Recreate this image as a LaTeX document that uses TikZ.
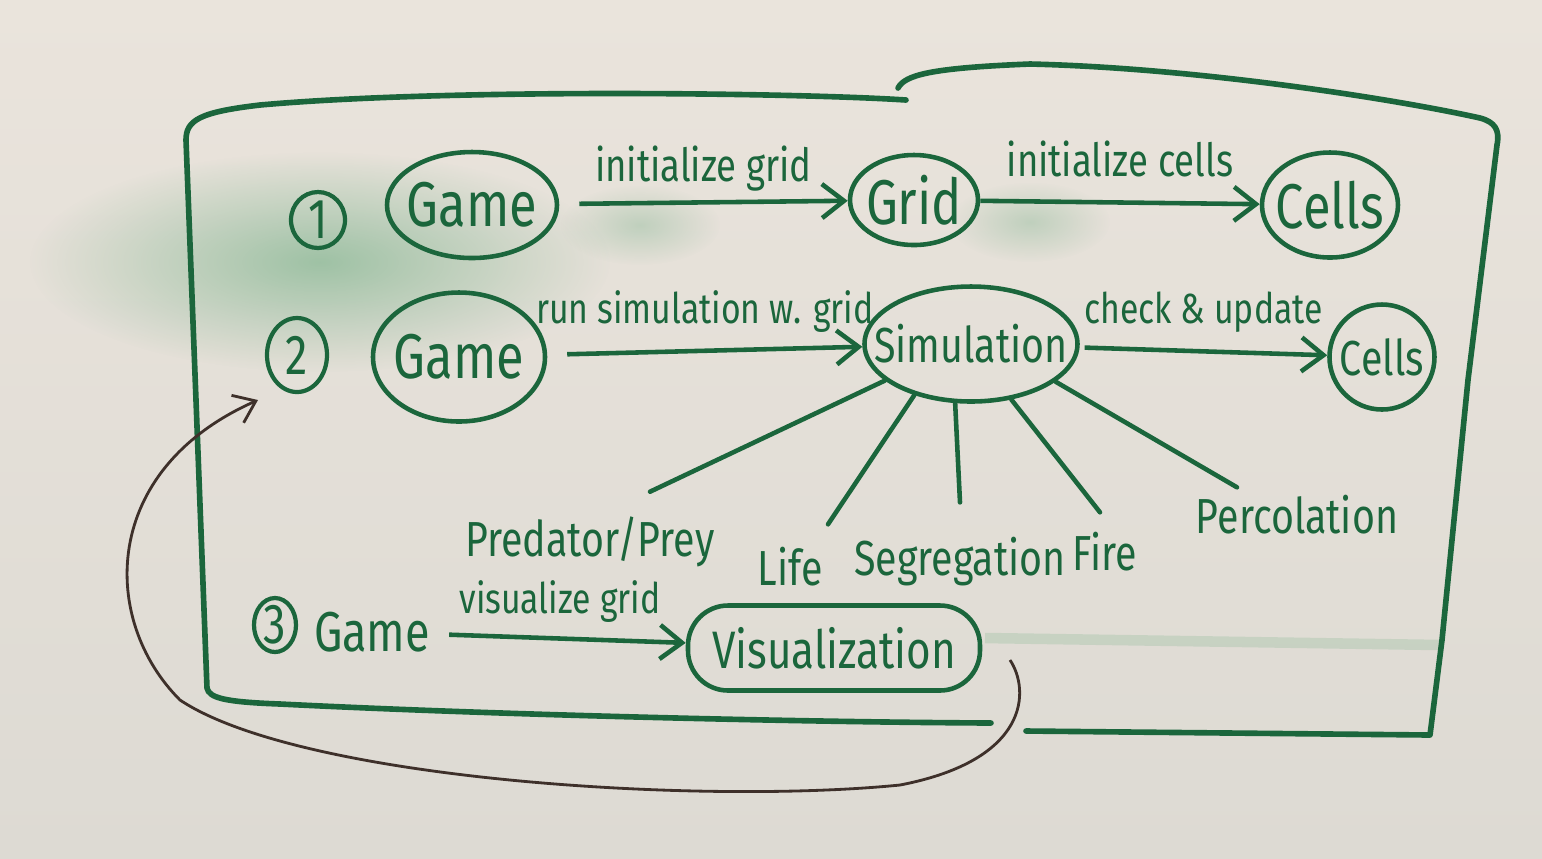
\documentclass[tikz,border=0pt]{standalone}
\usepackage{fontspec}
\setmainfont{Fira Sans}[FakeStretch=0.8]
\usetikzlibrary{arrows.meta,shapes,fadings}
\tikzset {>={Straight Barb[length=2.2mm,width=3.4mm]}}
\tikzfading[name=smudge,inner color=transparent!0,outer color=transparent!100]
\definecolor{board}{RGB}{234,228,220}
\definecolor{boardlow}{RGB}{221,218,211}
\definecolor{ink}{RGB}{27,102,60}
\definecolor{mint}{RGB}{100,168,122}
\definecolor{pen}{RGB}{62,48,42}

\begin{document}
\begin{tikzpicture}[x=0.1mm,y=-0.1mm,
  bubble/.style={ellipse,draw=ink,line width=1.3pt,inner sep=-8mm,text=ink,font=\fontsize{18}{20}\selectfont},
  num/.style={ellipse,draw=ink,line width=1.2pt,inner sep=-4mm,text=ink,font=\fontsize{16}{18}\selectfont},
  lbl/.style={text=ink,inner sep=1pt,font=\fontsize{13}{15}\selectfont},
  leaf/.style={text=ink,inner sep=1pt,font=\fontsize{14}{16}\selectfont},
  link/.style={->,draw=ink,line width=1.3pt},
  spoke/.style={draw=ink,line width=1.3pt,line cap=round},
  frame/.style={draw=ink,line width=1.6pt,line cap=round,line join=round}]
\useasboundingbox (0,0) rectangle (1542,858);
\shade[top color=board,bottom color=boardlow] (0,0) rectangle (1542,858);

% smudges on the board
\fill[mint,opacity=.55,path fading=smudge] (320,262) ellipse [x radius=29mm,y radius=11mm];
\fill[mint,opacity=.3,path fading=smudge] (640,225) ellipse [x radius=8mm,y radius=4mm];
\fill[mint,opacity=.3,path fading=smudge] (1030,222) ellipse [x radius=8mm,y radius=4mm];
\draw[mint,opacity=.2,line width=3pt] (985,638) -- (1440,645);

% frame
\draw[frame] (906,100) .. controls (800,93) and (450,88) .. (260,105) .. controls (200,112) and (186,120) .. (186,140) -- (196,400) -- (207,688) .. controls (209,698) and (225,702) .. (280,704) .. controls (500,715) and (800,722) .. (991,723);
\draw[frame] (898,88) .. controls (905,75) and (930,68) .. (1030,64) .. controls (1200,68) and (1400,100) .. (1480,118) .. controls (1495,122) and (1500,130) .. (1497,145) -- (1468,380) -- (1442,640) -- (1430,735) -- (1026,731);

% 1
\node[num,minimum width=5.4mm,minimum height=5.6mm] (one) at (318,220) {1};
\node[bubble,minimum width=17mm,minimum height=10.6mm] (gameA) at (472,205) {Game};
\node[bubble,minimum width=12.8mm,minimum height=9mm] (grid) at (914,200) {Grid};
\node[bubble,minimum width=13.6mm,minimum height=10.5mm] (cellsA) at (1330,205) {Cells};
\draw[link,shorten <=2mm] (gameA) -- node[lbl,above=.5mm] {initialize grid} (grid);
\draw[link] (grid) -- node[lbl,above=2mm] {initialize cells} (cellsA);

% 2
\node[num,minimum width=6mm,minimum height=7.4mm] (two) at (297,355) {2};
\node[bubble,minimum width=17.2mm,minimum height=12.9mm] (gameB) at (459,357) {Game};
\node[bubble,minimum width=21.3mm,minimum height=11.5mm,font=\fontsize{14}{16}\selectfont] (sim) at (971,344) {Simulation};
\node[bubble,minimum width=10.5mm,minimum height=10.5mm,font=\fontsize{14}{16}\selectfont] (cellsB) at (1382,357) {Cells};
\draw[link,shorten <=2mm] (gameB) -- node[lbl,above=1.2mm,font=\fontsize{12}{14}\selectfont] {run simulation w. grid} (sim);
\draw[link,shorten <=.5mm] (sim) -- node[lbl,above=1.3mm,font=\fontsize{12}{14}\selectfont] {check \& update} (cellsB);

\node[leaf] (pp) at (590,542) {Predator/Prey};
\node[leaf] (life) at (790,567) {Life};
\node[leaf] (seg) at (960,562) {Segregation};
\node[leaf] (fire) at (1105,552) {Fire};
\node[leaf] (perc) at (1297,515) {Percolation};
\draw[spoke] (sim.203) -- ([xshift=6mm,yshift=2.1mm]pp.north);
\draw[spoke] (sim.222) -- ([xshift=3.8mm,yshift=1.9mm]life.north);
\draw[spoke] (sim.255) -- ([yshift=3.1mm]seg.north);
\draw[spoke] (sim.306) -- ([xshift=-.5mm,yshift=1.6mm]fire.north);
\draw[spoke] (sim.336) -- ([xshift=-6mm,yshift=.4mm]perc.north);

% 3
\node[num,minimum width=4.2mm,minimum height=5.4mm] (three) at (275,625) {3};
\node[lbl,font=\fontsize{16}{18}\selectfont] (gameC) at (372,632) {Game};
\node[draw=ink,line width=1.3pt,rounded corners=4mm,minimum width=29.2mm,minimum height=8.5mm,inner sep=0pt,text=ink,font=\fontsize{15}{17}\selectfont] (vis) at (834,648) {Visualization};
\draw[link,shorten <=1.5mm] (gameC) -- node[lbl,above=1mm,font=\fontsize{12}{14}\selectfont] {visualize grid} (vis);

% back to 2
\coordinate (loopstart) at (1010,660);
\coordinate (loopend) at (258,400);
\draw[pen,line width=.8pt,-{Straight Barb[length=2mm,width=3mm]}] (loopstart) .. controls (1030,690) and (1030,760) .. (900,785) .. controls (700,805) and (300,780) .. (180,700) .. controls (100,620) and (100,470) .. (loopend);
\end{tikzpicture}
\end{document}
